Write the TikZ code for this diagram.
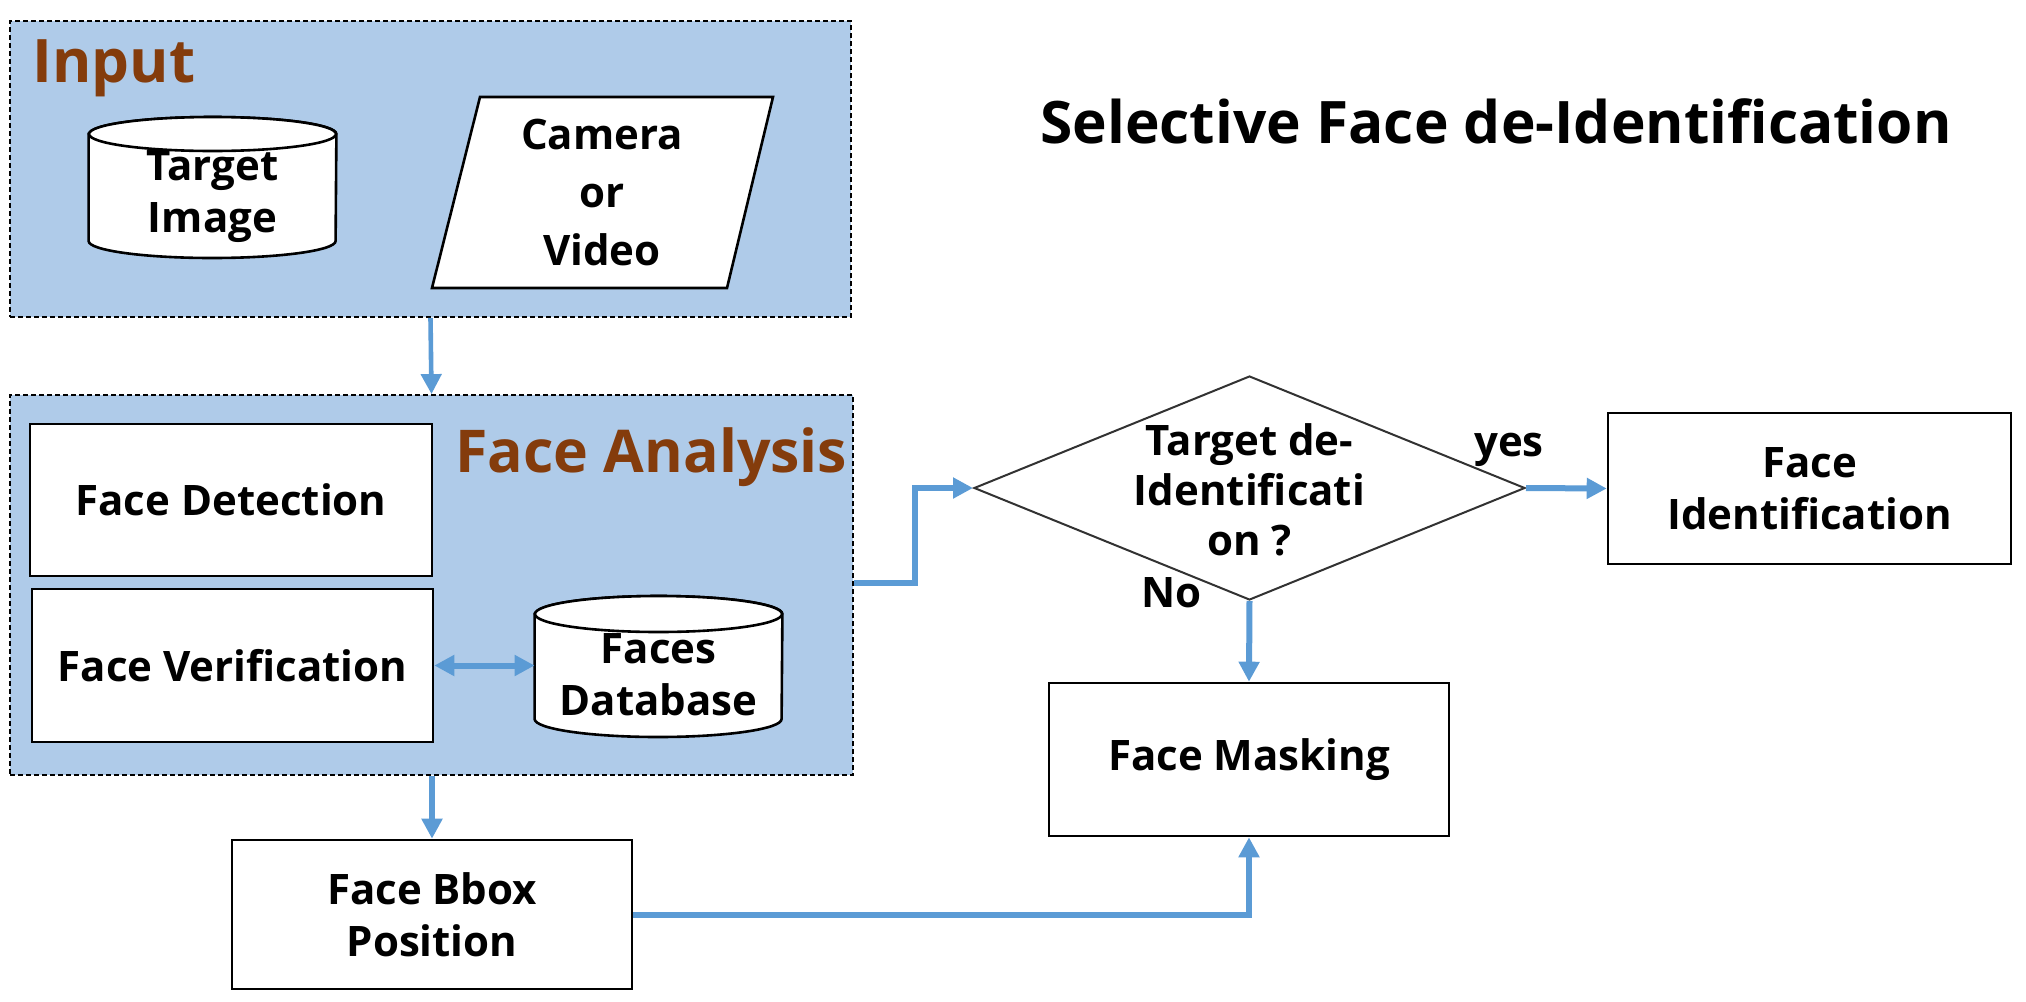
\documentclass[tikz,border=0pt]{standalone}
\usepackage{fontspec}
\setmainfont{Open Sans}
\usetikzlibrary{arrows.meta,shapes.geometric,calc}
\definecolor{grpblue}{RGB}{175,203,233}
\definecolor{brn}{RGB}{132,60,12}
\definecolor{arrblue}{RGB}{91,155,213}
\definecolor{diagray}{RGB}{50,50,50}
\begin{document}
\begin{tikzpicture}[x=0.5pt,y=-0.5pt,
  txt/.style={font=\fontsize{21}{26}\selectfont\bfseries, align=center, text=black, inner sep=0pt},
  box/.style={draw=black, line width=1.3pt, fill=white, inner sep=0pt, txt},
  grp/.style={draw=black, dash pattern=on 2.5pt off 1.5pt, line width=0.9pt, fill=grpblue, inner sep=0pt},
  grplbl/.style={anchor=base west, font=\fontsize{30}{36}\selectfont\bfseries, text=brn, inner sep=0pt},
  shapeline/.style={draw=black, line width=1.3pt, fill=white},
  ghost/.style={draw=none, inner sep=0pt},
  dia/.style={diamond, draw=diagray, line width=1pt, inner sep=0pt, minimum width=275.5pt, minimum height=112pt},
  arr/.style={draw=arrblue, line width=3pt, -{Triangle[length=10pt,width=10pt]}},
  dblarr/.style={draw=arrblue, line width=3pt, {Triangle[length=10pt,width=10pt]}-{Triangle[length=10pt,width=10pt]}}
]
\path[use as bounding box, fill=white] (0,0) rectangle (2026,1002);

% group boxes
\node[grp, minimum width=420.5pt, minimum height=148pt] (inbox) at (430.5,169) {};
\node[grp, minimum width=421.5pt, minimum height=190pt] (fabox) at (431.5,585) {};
\node[grplbl] (inlbl) at (32,82) {Input};
\node[grplbl, font=\fontsize{29.5}{35}\selectfont\bfseries] (falbl) at (455,472) {Face Analysis};

% title
\node[anchor=base west, font=\fontsize{29.3}{35}\selectfont\bfseries, inner sep=0pt] (title) at (1040,143) {Selective Face de-Identification};

% Target Image cylinder
\node[ghost, minimum width=123.5pt, minimum height=70.5pt] (tgtshape) at (212.5,187.5) {};
\filldraw[shapeline] (tgtshape.west |- 0,134) -- (tgtshape.west |- 0,241)
  arc[start angle=180,end angle=360,x radius=61.75pt,y radius=8.5pt]
  -- (tgtshape.east |- 0,134)
  arc[start angle=0,end angle=180,x radius=61.75pt,y radius=8.5pt] -- cycle;
\draw[shapeline] (tgtshape.center |- 0,134) ellipse[x radius=61.75pt, y radius=8.5pt];
\node[txt] (tgt) at (212.5,197) {Target\\Image};

% Camera parallelogram
\coordinate (camtl) at (480,97);
\coordinate (camtr) at (773,97);
\coordinate (cambr) at (727,288);
\coordinate (cambl) at (432,288);
\filldraw[shapeline] (camtl) -- (camtr) -- (cambr) -- (cambl) -- cycle;
\node[txt, font=\fontsize{21}{29}\selectfont\bfseries] (cam) at (602,192) {Camera\\or\\Video};

% Face analysis content
\node[box, minimum width=201pt, minimum height=76pt] (det) at (231,500) {Face Detection};
\node[box, minimum width=200.5pt, minimum height=76.5pt] (ver) at (232.5,665.5) {Face Verification};

\node[ghost, minimum width=123.5pt, minimum height=70.5pt] (dbshape) at (658.5,666.5) {};
\filldraw[shapeline] (dbshape.west |- 0,614) -- (dbshape.west |- 0,719)
  arc[start angle=180,end angle=360,x radius=61.75pt,y radius=9pt]
  -- (dbshape.east |- 0,614)
  arc[start angle=0,end angle=180,x radius=61.75pt,y radius=9pt] -- cycle;
\draw[shapeline] (dbshape.center |- 0,614) ellipse[x radius=61.75pt, y radius=9pt];
\node[txt] (db) at (658.5,675) {Faces\\Database};

% other boxes
\node[box, minimum width=200pt, minimum height=74.5pt] (bbox) at (432,914.5) {Face Bbox\\Position};
\node[box, minimum width=201.5pt, minimum height=75.5pt] (fid) at (1809.5,488.5) {Face\\Identification};
\node[box, minimum width=200pt, minimum height=76.5pt] (mask) at (1249,759.5) {Face Masking};

% decision
\node[dia] (dec) at (1249.5,488) {};
\node[txt, font=\fontsize{21}{25}\selectfont\bfseries] (dectxt) at (1249.5,490) {Target de-\\Identificati\\on ?};
\node[txt, anchor=base] (yes) at (1509,456) {yes};
\node[txt, anchor=base] (no) at (1171.5,607) {No};

% connectors
\draw[arr, line width=2.3pt] (inbox.south) -- (fabox.north);
\draw[arr] (bbox.north |- fabox.south) -- (bbox.north);
\draw[dblarr] (ver.east) -- (ver.east -| dbshape.west);
\draw[arr] (fabox.east |- 0,583) -- ++(61,0) |- (dec.west);
\draw[arr] (dec.east) -- (fid.west);
\draw[arr] (dec.south) -- (mask.north);
\draw[arr] (bbox.east) -| (mask.south);
\end{tikzpicture}
\end{document}
